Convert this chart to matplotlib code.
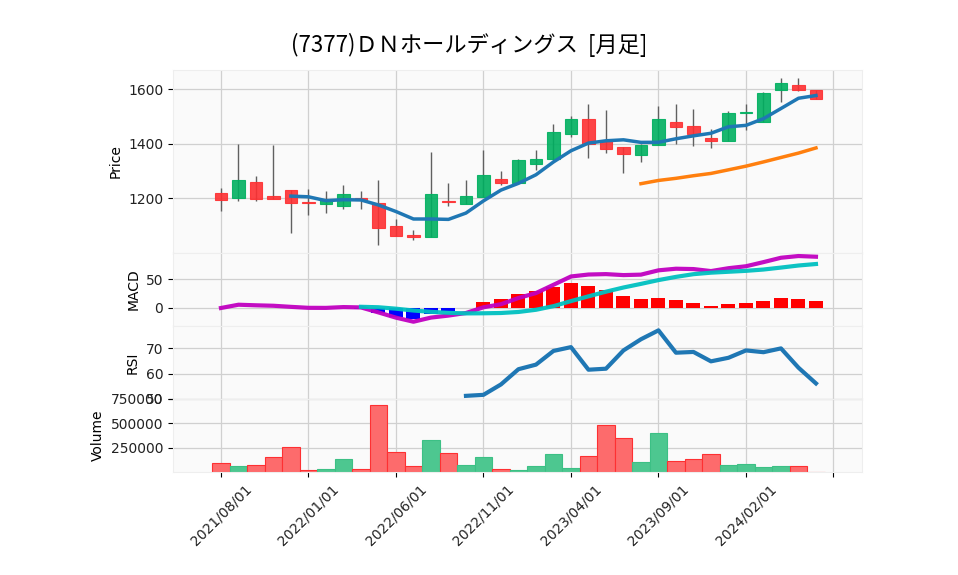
import numpy as np
import pandas as pd
import matplotlib
matplotlib.use("Agg")
import matplotlib.pyplot as plt

title = "(7377)ＤＮホールディングス  [月足]"
tick_labels = ["2021/08/01", "2022/01/01", "2022/06/01", "2022/11/01",
               "2023/04/01", "2023/09/01", "2024/02/01", ""]

opens = [1221, 1201, 1260, 1209, 1231, 1188, 1180, 1172, 1201, 1184, 1098, 1065, 1058, 1191, 1180, 1206, 1272, 1257, 1327, 1346, 1438, 1490, 1410, 1387, 1358, 1395, 1482, 1467, 1422, 1409, 1512, 1480, 1598, 1617, 1596]
highs = [1237, 1398, 1284, 1396, 1231, 1233, 1228, 1251, 1229, 1266, 1123, 1086, 1369, 1258, 1267, 1379, 1300, 1345, 1379, 1472, 1501, 1548, 1523, 1389, 1401, 1540, 1546, 1528, 1453, 1519, 1546, 1589, 1643, 1640, 1596]
lows = [1153, 1191, 1191, 1198, 1072, 1139, 1145, 1163, 1162, 1031, 1062, 1046, 1057, 1174, 1180, 1206, 1251, 1257, 1304, 1340, 1424, 1350, 1365, 1293, 1333, 1395, 1400, 1391, 1384, 1409, 1451, 1480, 1552, 1595, 1565]
closes = [1195, 1267, 1198, 1199, 1184, 1182, 1196, 1216, 1194, 1092, 1062, 1059, 1216, 1187, 1208, 1285, 1257, 1340, 1344, 1443, 1490, 1398, 1382, 1362, 1396, 1492, 1462, 1436, 1409, 1515, 1518, 1585, 1622, 1597, 1565]
volumes = [93000, 62000, 72000, 155000, 259000, 21000, 34000, 138000, 31000, 683000, 207000, 62000, 324000, 197000, 72000, 159000, 31000, 21000, 62000, 186000, 41000, 165000, 486000, 352000, 103000, 403000, 114000, 138000, 186000, 72000, 83000, 55000, 62000, 62000, 3000]

nan = np.nan
macd_vals = [0.0, 5.7, 4.7, 3.9, 2.0, 0.3, 0.2, 1.6, 1.0, -7.7, -16.8, -23.9, -16.7, -13.2, -8.7, 1.2, 6.6, 17.4, 26.0, 40.4, 54.9, 58.3, 59.0, 57.3, 58.1, 65.6, 68.4, 67.8, 64.3, 69.3, 72.7, 79.9, 87.5, 90.5, 89.3]
signal_vals = [nan]*8 + [2.1, 1.3, -1.2, -4.4, -6.7, -8.4, -9.4, -9.2, -8.7, -6.9, -3.1, 3.2, 12.0, 20.3, 28.4, 35.7, 42.0, 48.6, 54.2, 58.9, 61.5, 63.1, 64.7, 67.0, 70.4, 74.0, 76.6]
hist_vals = [nan]*8 + [-1.1, -9.0, -15.6, -19.5, -10.0, -4.8, 0.7, 10.4, 15.3, 24.3, 29.1, 37.2, 42.9, 38.0, 30.6, 21.6, 16.1, 17.0, 14.2, 8.9, 2.8, 6.2, 8.0, 12.9, 17.1, 16.5, 12.7]
rsi_vals = [nan]*14 + [51.2, 51.6, 55.7, 61.7, 63.5, 68.9, 70.4, 61.5, 61.9, 69.1, 73.5, 77.0, 68.2, 68.5, 64.8, 66.2, 69.1, 68.4, 69.9, 62.3, 56.1]

mav_periods = [5, 25]

# ---- style ----
UP, DOWN = "#00b060", "#fe3032"
VUP, VDOWN = "#4dc790", "#fd6b6c"
FACE, GRID = "#fafafa", "#d0d0d0"

n = len(closes)
x = np.arange(n)
o = np.array(opens, float); c = np.array(closes, float)
h = np.array(highs, float); l = np.array(lows, float)
up = c >= o

fig = plt.figure(figsize=(9.58, 5.75), dpi=100)
L, W = 173/958, (862-173)/958
def mk(top, bot):
    return fig.add_axes([L, 1-bot/575, W, (bot-top)/575])

ax_p = mk(70, 252.7)
ax_m = mk(252.7, 325.8)
ax_r = mk(325.8, 398.9)
ax_v = mk(398.9, 472)
axes = [ax_p, ax_m, ax_r, ax_v]

xt = list(range(0, 36, 5))
for ax in axes:
    ax.set_facecolor(FACE)
    ax.set_axisbelow(True)
    ax.grid(True, color=GRID, linewidth=0.9)
    ax.set_xlim(-2.74, 36.63)
    ax.set_xticks(xt)
    for s in ax.spines.values():
        s.set_color("#eeeeee")
    ax.tick_params(axis="y", labelsize=10, length=3.5, color="black", labelcolor="#222222")
for ax in axes[:-1]:
    ax.tick_params(axis="x", bottom=False, labelbottom=False)

# price panel
ax_p.vlines(x, l, h, color="#606060", linewidth=1.0, zorder=2)
body_col = [UP if u else DOWN for u in up]
ax_p.bar(x, np.abs(c - o), bottom=np.minimum(o, c), width=0.7,
         color=body_col, edgecolor=body_col, linewidth=0.8, alpha=0.9, zorder=3)
cs = pd.Series(c)
ma_colors = ["#1f77b4", "#ff7f0e"]
for p, col in zip(mav_periods, ma_colors):
    ax_p.plot(x, cs.rolling(p).mean(), color=col, linewidth=2.5, zorder=4)
ax_p.set_ylim(1001, 1671)
ax_p.set_yticks([1200, 1400, 1600])
ax_p.set_ylabel("Price", fontsize=10)

# MACD panel
hv = np.array(hist_vals, float)
hcol = ["#ff0000" if (not np.isnan(v) and v >= 0) else "#0000ff" for v in hv]
ax_m.bar(x, hv, width=0.8, color=hcol, zorder=2)
ax_m.plot(x, macd_vals, color="#c000c0", linewidth=3, alpha=0.95, zorder=3)
ax_m.plot(x, signal_vals, color="#00c0c0", linewidth=3, alpha=0.95, zorder=3)
ax_m.set_ylim(-31, 96.3)
ax_m.set_yticks([0, 50])
ax_m.set_ylabel("MACD", fontsize=10)

# RSI panel
ax_r.plot(x, rsi_vals, color="#1f77b4", linewidth=3, zorder=3)
ax_r.set_ylim(50, 78.8)
ax_r.set_yticks([50, 60, 70])
ax_r.set_ylabel("RSI", fontsize=10)

# Volume panel
vcol = [VUP if u else VDOWN for u in up]
vedge = ["#3cc085" if u else "#fe3032" for u in up]
ax_v.bar(x, volumes, width=1.0, color=vcol, edgecolor=vedge, linewidth=0.8, zorder=2)
ax_v.set_ylim(0, 750000)
ax_v.set_yticks([250000, 500000, 750000])
ax_v.set_ylabel("Volume", fontsize=10)
ax_v.set_xticklabels(tick_labels, rotation=45, ha="center", fontsize=10, color="#222222")
ax_v.tick_params(axis="x", length=3.5, color="black")

fig.text(0.49, 1-45/575, title, ha="center", va="center", fontsize=16,
         family=["Noto Sans CJK JP", "DejaVu Sans"])

fig.savefig("out.png", dpi=100, facecolor="white")
